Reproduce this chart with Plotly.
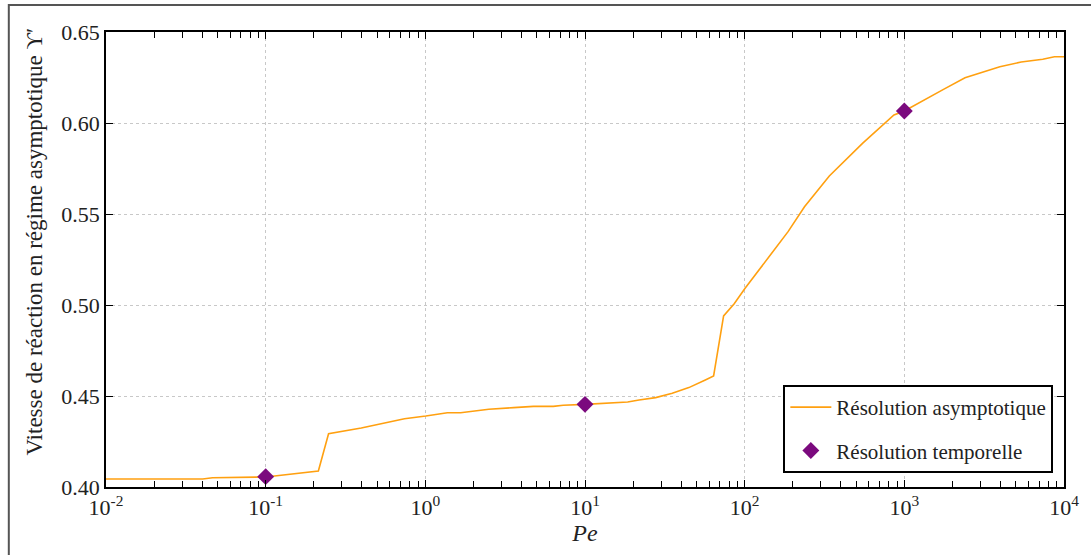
import plotly.graph_objects as go

# Curve: asymptotic resolution
pe_asym = [0.01, 0.0403, 0.0465, 0.0906, 0.1, 0.2138, 0.2477, 0.397, 0.740, 1.007,
           1.374, 1.663, 2.497, 3.571, 4.755, 6.33, 7.30, 10.0, 12.94, 15.66,
           18.5, 21.8, 27.7, 35.2, 44.7, 56.7, 63.9, 73.8, 86.0, 100.6,
           140.4, 187, 237, 339, 547, 861, 1000, 1321, 1759, 2399,
           2976, 3964, 5397, 7361, 8710, 10000]
y_asym = [0.4044, 0.4044, 0.4051, 0.4051, 0.4055, 0.4088, 0.4293, 0.4324, 0.4375, 0.4390,
          0.4408, 0.4408, 0.4427, 0.4436, 0.4443, 0.4443, 0.4449, 0.4454, 0.4460, 0.4467,
          0.4467, 0.4478, 0.4491, 0.4515, 0.4546, 0.4588, 0.4610, 0.4940, 0.5007, 0.5092,
          0.5257, 0.5403, 0.5540, 0.5709, 0.5888, 0.6044, 0.6066, 0.6126, 0.6185, 0.6249,
          0.6273, 0.6309, 0.6335, 0.6350, 0.6364, 0.6364]

# Markers: temporal resolution
pe_temp = [0.1, 10, 1000]
y_temp = [0.4057, 0.4454, 0.6066]

x_major = [0.01, 0.1, 1, 10, 100, 1000, 10000]
x_major_text = ["10<sup>-2</sup>", "10<sup>-1</sup>", "10<sup>0</sup>", "10<sup>1</sup>",
                "10<sup>2</sup>", "10<sup>3</sup>", "10<sup>4</sup>"]
x_minor = [m * d for d in x_major[:-1] for m in range(2, 10)]
y_ticks = [0.40, 0.45, 0.50, 0.55, 0.60, 0.65]

FONT = "Liberation Serif, Times New Roman, serif"

fig = go.Figure()
fig.add_trace(go.Scatter(x=pe_asym, y=y_asym, mode="lines", name="Résolution asymptotique",
                         line=dict(color="#FFA010", width=1.6), legendgroup="a"))
fig.add_trace(go.Scatter(x=pe_temp, y=y_temp, mode="markers", name="Résolution temporelle",
                         marker=dict(symbol="diamond", color="#7B0A7E", size=13), legendgroup="b"))

axis_common = dict(showline=True, linecolor="black", linewidth=1.5, mirror="ticks",
                   ticks="inside", tickcolor="black", tickwidth=1.3, ticklen=7,
                   showgrid=True, gridcolor="#c8c8c8", griddash="dot", gridwidth=1,
                   zeroline=False, tickfont=dict(family=FONT, size=22, color="#222"))

fig.update_xaxes(type="log", range=[-2, 4], tickmode="array", tickvals=x_major,
                 ticktext=x_major_text,
                 minor=dict(tickmode="array", tickvals=x_minor, ticks="inside", ticklen=6,
                            tickcolor="black", tickwidth=1.2, showgrid=False),
                 title=dict(text="<i>Pe</i>", font=dict(family=FONT, size=24, color="#222"),
                            standoff=0),
                 **axis_common)
fig.update_yaxes(range=[0.40, 0.65], tickmode="array", tickvals=y_ticks, tickformat=".2f",
                 **axis_common)

fig.add_annotation(text="Vitesse de réaction en régime asymptotique ϒ′", textangle=-90,
                   xref="paper", yref="paper", x=(33 - 106) / 966, y=(487 - 242) / 455,
                   xanchor="center", yanchor="middle", showarrow=False,
                   font=dict(family=FONT, size=23, color="#222"))

# outer figure frame (only top and left edges fall inside the canvas)
fig.add_shape(type="rect", xref="paper", yref="paper",
              x0=(8 - 106) / 966, x1=(1110 - 106) / 966,
              y0=(487 - 580) / 455, y1=(487 - 5) / 455,
              line=dict(color="#555", width=2), fillcolor="rgba(0,0,0,0)", layer="below")

fig.update_layout(
    width=1091, height=555,
    margin=dict(l=106, r=19, t=32, b=68),
    paper_bgcolor="white", plot_bgcolor="white",
    font=dict(family=FONT, color="#222"),
    showlegend=True,
    legend=dict(x=(789 - 106) / 966, y=(487 - 385) / 455, xanchor="left", yanchor="top",
                bordercolor="black", borderwidth=2, bgcolor="white",
                font=dict(family=FONT, size=21, color="#222"),
                tracegroupgap=13, traceorder="grouped", itemwidth=41,
                entrywidth=243, entrywidthmode="pixels"),
)

fig.write_html("out.html", config={"displayModeBar": False},
               post_script="document.body.style.margin='0';document.body.style.overflow='hidden';")
